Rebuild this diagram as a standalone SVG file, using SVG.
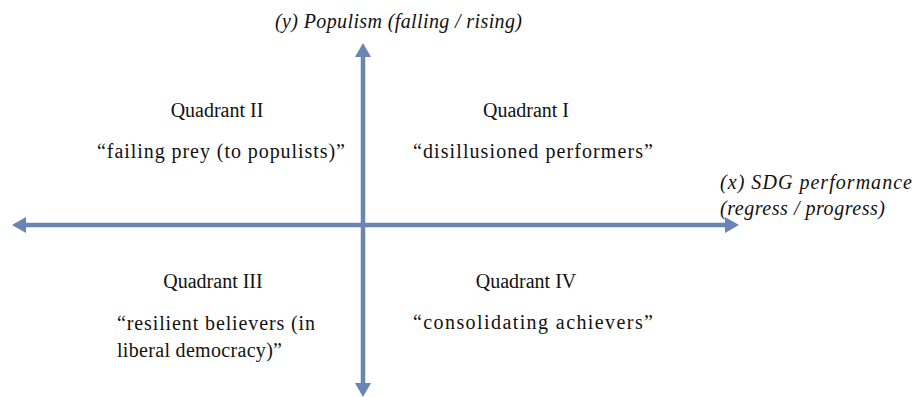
<svg xmlns="http://www.w3.org/2000/svg" width="914" height="397" viewBox="0 0 914 397">
<style>
.t{font-size:20px;fill:#111}
.i{font-style:italic}
.ax{stroke:#6A84B4;stroke-width:4.5;fill:none}
</style>
<defs>
<marker id="ah" viewBox="0 0 14 16" refX="0" refY="8" markerWidth="14" markerHeight="16" markerUnits="userSpaceOnUse" orient="auto-start-reverse">
<path d="M0,0 L14,8 L0,16 Z" fill="#6A84B4"/>
</marker>
</defs>
<rect width="914" height="397" fill="#fff"/>
<g id="connectors">
<line class="ax" x1="26" y1="225" x2="725" y2="225" marker-start="url(#ah)" marker-end="url(#ah)"/>
<line class="ax" x1="363" y1="57" x2="363" y2="383" marker-start="url(#ah)" marker-end="url(#ah)"/>
</g>
<g font-family="Liberation Serif, DejaVu Serif, serif">
<g id="y-axis-label">
<text class="t i" x="275" y="28" textLength="247" lengthAdjust="spacing">(y) Populism (falling / rising)</text>
</g>
<g id="x-axis-label">
<text class="t i" x="720" y="189" textLength="192" lengthAdjust="spacing">(x) SDG performance</text>
<text class="t i" x="720" y="215" textLength="165" lengthAdjust="spacing">(regress / progress)</text>
</g>
<g id="quadrant-2">
<text class="t" x="217" y="117" text-anchor="middle">Quadrant II</text>
<text class="t" x="97" y="158" textLength="248" lengthAdjust="spacing">“failing prey (to populists)”</text>
</g>
<g id="quadrant-1">
<text class="t" x="526" y="117" text-anchor="middle">Quadrant I</text>
<text class="t" x="413" y="158" textLength="240" lengthAdjust="spacing">“disillusioned performers”</text>
</g>
<g id="quadrant-3">
<text class="t" x="213" y="288" text-anchor="middle">Quadrant III</text>
<text class="t" x="117" y="330" textLength="198" lengthAdjust="spacing">“resilient believers (in</text>
<text class="t" x="117" y="357" textLength="165" lengthAdjust="spacing">liberal democracy)”</text>
</g>
<g id="quadrant-4">
<text class="t" x="526" y="288" text-anchor="middle">Quadrant IV</text>
<text class="t" x="413" y="329" textLength="240" lengthAdjust="spacing">“consolidating achievers”</text>
</g>
</g>
</svg>
